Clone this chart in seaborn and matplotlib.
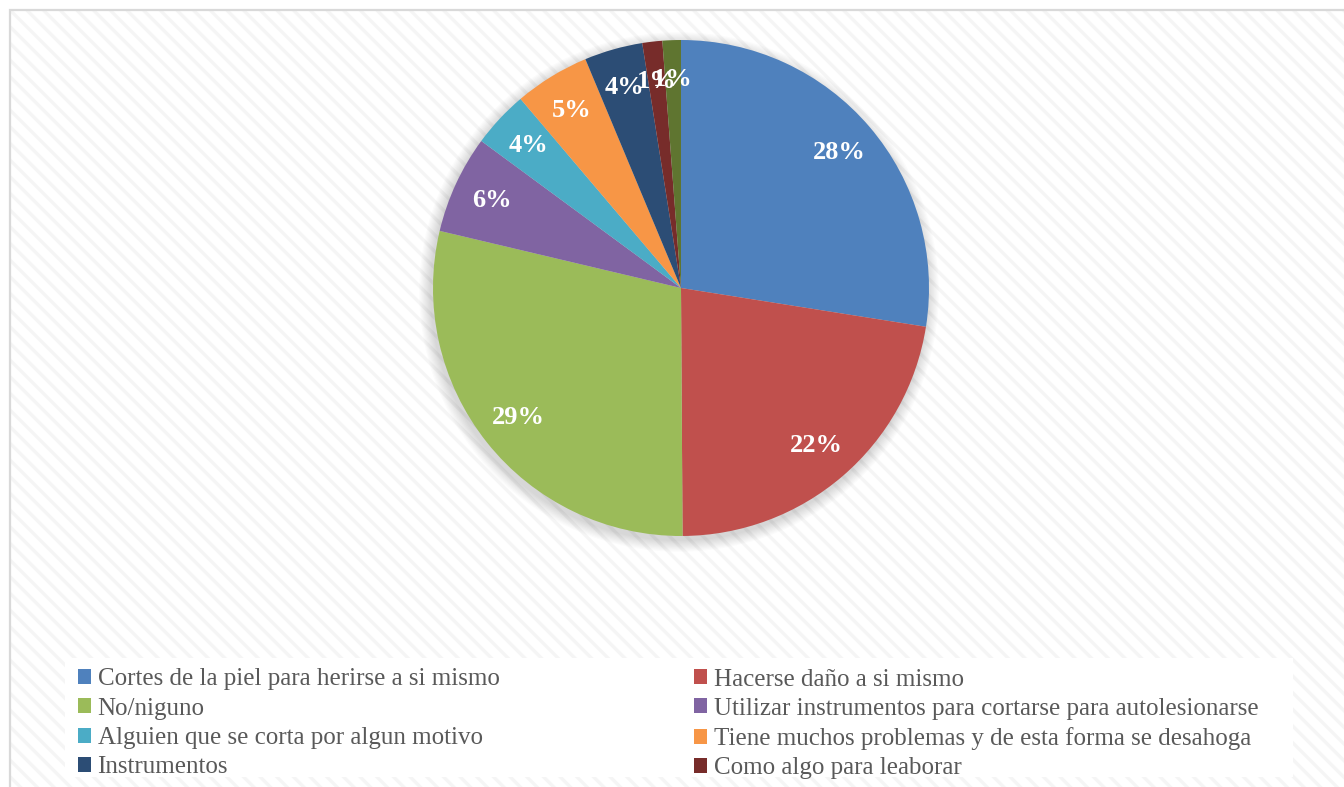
import numpy as np
import matplotlib
matplotlib.use("Agg")
import matplotlib.pyplot as plt
import seaborn as sns
from matplotlib.patches import Rectangle, Circle

# data (percent)
categories = [
    "Cortes de la piel para herirse a si mismo",
    "Hacerse daño a si mismo",
    "No/niguno",
    "Utilizar instrumentos para cortarse para autolesionarse",
    "Alguien que se corta por algun motivo",
    "Tiene muchos problemas y de esta forma se desahoga",
    "Instrumentos",
    "Como algo para leaborar",
    "Otro",
]
values = [27.5, 22.4, 28.8, 6.4, 3.7, 4.9, 3.8, 1.3, 1.2]
colors = ["#4F81BD", "#C0504D", "#9BBB59", "#8064A2", "#4BACC6",
          "#F79646", "#2C4D75", "#772C2A", "#5F7530"]

sns.set_style("white")
plt.rcParams['font.family'] = ['Liberation Serif', 'DejaVu Serif']
plt.rcParams['hatch.linewidth'] = 2.4
plt.rcParams['hatch.color'] = '#f5f5f5'

W, H = 1344, 787
fig = plt.figure(figsize=(W / 100, H / 100), dpi=100)
ax = fig.add_axes([0, 0, 1, 1])

# chart area with diagonal stripes and frame
ax.add_patch(Rectangle((10, -10), W + 20, H, facecolor='white',
                       hatch='\\\\', edgecolor='#f5f5f5', lw=0, zorder=0))
ax.add_patch(Rectangle((10, -10), W + 20, H, facecolor='none',
                       edgecolor='#d9d9d9', lw=1.6, zorder=1))

cx, cy, r = 681, H - 288, 248

# soft shadow
for k in range(10):
    ax.add_patch(Circle((cx - 2, cy - 4), r + 1 + k * 1.2, color='black',
                        alpha=0.016, lw=0, zorder=1))

wedges, texts, autotexts = ax.pie(
    values, colors=colors, startangle=90, counterclock=False,
    center=(cx, cy), radius=r, autopct=lambda p: f"{p:.0f}%",
    pctdistance=0.84, frame=True,
    textprops=dict(color='white', fontsize=19, fontweight='bold'),
    wedgeprops=dict(linewidth=0, zorder=2))
for t in autotexts:
    t.set_zorder(5)
ax.set_xlim(0, W)
ax.set_ylim(0, H)
ax.set_aspect('equal')
ax.axis('off')

# legend box
ax.add_patch(Rectangle((65, H - 777), 1228, 119, facecolor='white',
                       edgecolor='none', zorder=3))

leg_kw = dict(loc='upper left', frameon=False, fontsize=18, borderpad=0,
              handlelength=0.55, handleheight=0.55, handletextpad=0.25,
              labelspacing=0.29, labelcolor='#595959')
left = [wedges[i] for i in (0, 2, 4, 6)]
right = [wedges[i] for i in (1, 3, 5, 7)]
leg1 = ax.legend(left, [categories[i] for i in (0, 2, 4, 6)],
                 bbox_to_anchor=(65, H - 656), bbox_transform=ax.transData, **leg_kw)
leg1.set_zorder(6)
ax.add_artist(leg1)
leg2 = ax.legend(right, [categories[i] for i in (1, 3, 5, 7)],
                 bbox_to_anchor=(681, H - 656), bbox_transform=ax.transData, **leg_kw)
leg2.set_zorder(6)

fig.savefig("out.png", dpi=100)
